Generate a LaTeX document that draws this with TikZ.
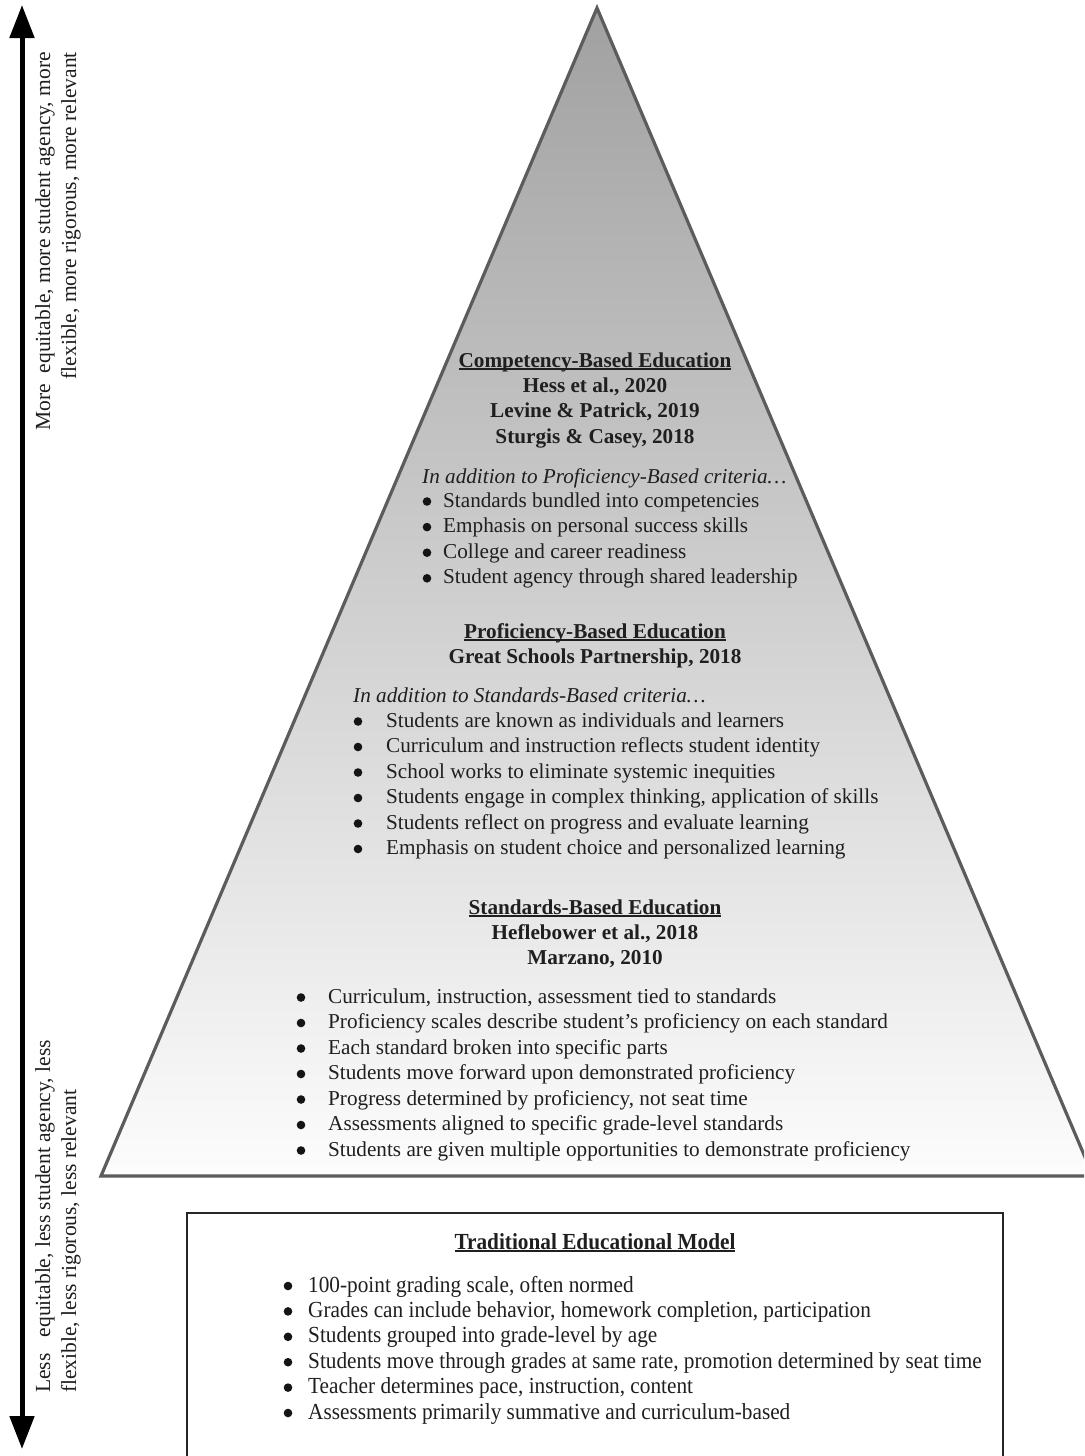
\documentclass[tikz,border=0pt]{standalone}
\usepackage{fontspec}
\setmainfont{Liberation Serif}
\newfontfamily\boxfont[FakeStretch=0.925]{Liberation Serif}
\usetikzlibrary{arrows.meta}

% underlined heading with the rule sitting just under the baseline
\newcommand\titleline[1]{\setbox0\hbox{#1}\rlap{\rule[-2.6pt]{\wd0}{1.3pt}}\box0}

\tikzset{
  txt/.style={inner sep=0pt, text=black!88, font=\fontsize{21.2}{24}\selectfont},
  entry/.style={txt, anchor=base west},
  head/.style={inner sep=0pt, text=black!88, anchor=base, font=\fontsize{21.2}{24}\selectfont\bfseries},
  dot/.style={circle, fill=black!92, inner sep=0pt, minimum size=8.6pt},
  boxentry/.style={inner sep=0pt, text=black!88, anchor=base west, font=\boxfont\fontsize{23}{24}\selectfont},
  boxhead/.style={inner sep=0pt, text=black!88, anchor=base, font=\boxfont\fontsize{23}{24}\selectfont\bfseries},
  side/.style={inner sep=0pt, text=black!88, rotate=90, font=\fontsize{21.5}{26}\selectfont},
  scalearrow/.style={line width=5pt, {Triangle[length=33pt,width=24pt]}-{Triangle[length=33pt,width=24pt]}},
  pyramid/.style={draw=black!64, line width=3.2pt, line join=miter,
    top color=black!37, middle color=black!19, bottom color=black!1},
  frame/.style={draw=black!85, line width=1.8pt},
}

\begin{document}
\begin{tikzpicture}[x=1pt, y=-1pt]
\useasboundingbox (0,0) rectangle (1084,1456);
\clip (0,0) rectangle (1084,1456);
\fill[white] (0,0) rectangle (1084,1456);

% vertical scale arrow
\coordinate (arrowtop) at (22,5);
\coordinate (arrowbot) at (22,1449);
\draw[scalearrow] (arrowbot) -- (arrowtop);

\node[side, anchor=east, align=right] (upper) at (58,52)
  {More\ \ equitable, more student agency, more\\flexible, more rigorous, more relevant};
\node[side, anchor=west, align=left] (lower) at (58,1393)
  {Less\ \ \ equitable, less student agency, less\\flexible, less rigorous, less relevant};

% pyramid
\coordinate (apex) at (597,8);
\coordinate (baseL) at (101,1176);
\coordinate (baseR) at (1093,1176);
\draw[pyramid] (apex) -- (baseL) -- (baseR) -- cycle;

% traditional model frame (runs past the lower edge)
\coordinate (frameTL) at (187,1213);
\coordinate (frameBR) at (1003,1490);
\draw[frame] (frameTL) rectangle (frameBR);

% competency-based level
\node[head] (cbe) at (595,367) {\titleline{Competency-Based Education}};
\node[head] (cbe-a) at (595,392) {Hess et al., 2020};
\node[head] (cbe-b) at (595,417) {Levine \& Patrick, 2019};
\node[head] (cbe-c) at (595,443) {Sturgis \& Casey, 2018};
\node[entry] (cbe-intro) at (422,483) {\itshape In addition to Proficiency-Based criteria\ldots};
\foreach \t [count=\i] in {Standards bundled into competencies,
    Emphasis on personal success skills,
    College and career readiness,
    Student agency through shared leadership}{
  \node[dot] (cbe-dot\i) at (427,{501.5+25.6*(\i-1)}) {};
  \node[entry] (cbe-item\i) at (443,{507+25.6*(\i-1)}) {\t};
}

% proficiency-based level
\node[head] (pbe) at (595,638) {\titleline{Proficiency-Based Education}};
\node[head] (pbe-a) at (595,663) {Great Schools Partnership, 2018};
\node[entry] (pbe-intro) at (353,702) {\itshape In addition to Standards-Based criteria\ldots};
\foreach \t [count=\i] in {Students are known as individuals and learners,
    Curriculum and instruction reflects student identity,
    School works to eliminate systemic inequities,
    {Students engage in complex thinking, application of skills},
    Students reflect on progress and evaluate learning,
    Emphasis on student choice and personalized learning}{
  \node[dot] (pbe-dot\i) at (358,{721.5+25.5*(\i-1)}) {};
  \node[entry] (pbe-item\i) at (386,{727+25.5*(\i-1)}) {\t};
}

% standards-based level
\node[head] (sbe) at (595,914) {\titleline{Standards-Based Education}};
\node[head] (sbe-a) at (595,939) {Heflebower et al., 2018};
\node[head] (sbe-b) at (595,964) {Marzano, 2010};
\foreach \t [count=\i] in {{Curriculum, instruction, assessment tied to standards},
    Proficiency scales describe student’s proficiency on each standard,
    Each standard broken into specific parts,
    Students move forward upon demonstrated proficiency,
    {Progress determined by proficiency, not seat time},
    Assessments aligned to specific grade-level standards,
    Students are given multiple opportunities to demonstrate proficiency}{
  \node[dot] (sbe-dot\i) at (301,{997.5+25.5*(\i-1)}) {};
  \node[entry] (sbe-item\i) at (328,{1003+25.5*(\i-1)}) {\t};
}

% traditional model
\node[boxhead] (trad) at (595,1249) {\titleline{Traditional Educational Model}};
\foreach \t [count=\i] in {{100-point grading scale, often normed},
    {Grades can include behavior, homework completion, participation},
    Students grouped into grade-level by age,
    {Students move through grades at same rate, promotion determined by seat time},
    {Teacher determines pace, instruction, content},
    Assessments primarily summative and curriculum-based}{
  \node[dot] (trad-dot\i) at (288,{1286+25.4*(\i-1)}) {};
  \node[boxentry] (trad-item\i) at (308,{1292+25.4*(\i-1)}) {\t};
}
\end{tikzpicture}
\end{document}
